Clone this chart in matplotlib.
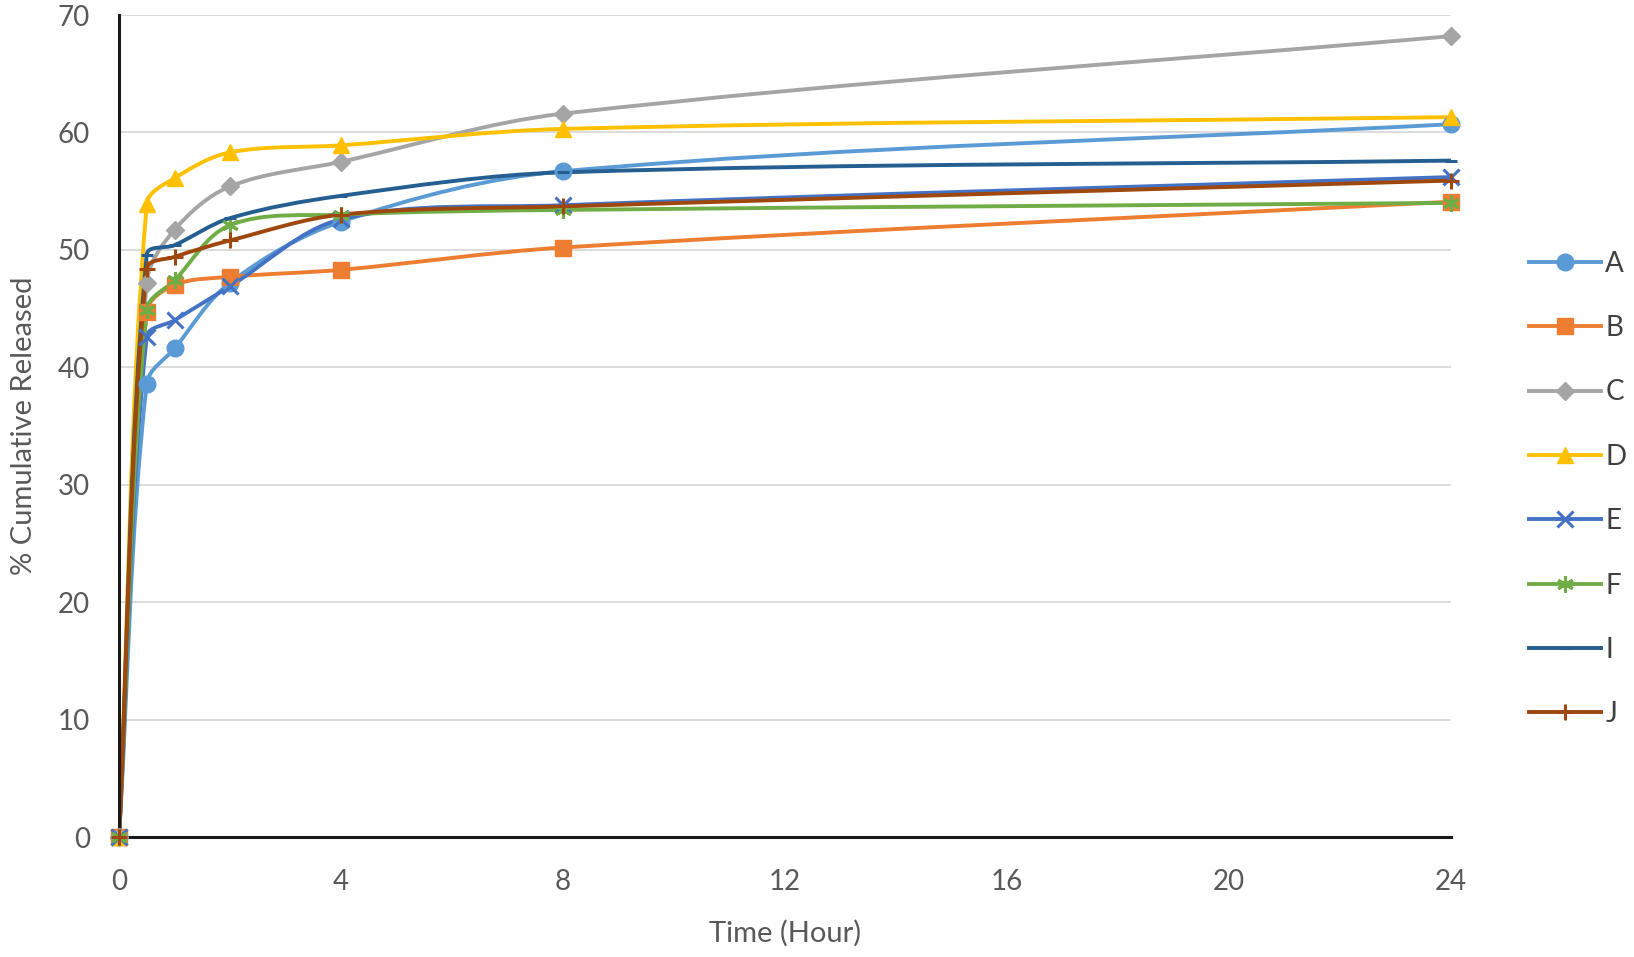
import numpy as np
import matplotlib
matplotlib.use("Agg")
import matplotlib.pyplot as plt
from matplotlib.path import Path
from matplotlib.patches import PathPatch
from matplotlib.lines import Line2D

plt.rcParams['font.family'] = ['Lato', 'DejaVu Sans']

time = [0, 0.5, 1, 2, 4, 8, 24]
series_names = ["A", "B", "C", "D", "E", "F", "I", "J"]
A = [0, 38.6, 41.6, 47.2, 52.4, 56.7, 60.7]
B = [0, 44.7, 47.0, 47.7, 48.3, 50.2, 54.1]
C = [0, 47.2, 51.7, 55.4, 57.5, 61.6, 68.2]
D = [0, 53.9, 56.1, 58.3, 58.9, 60.3, 61.3]
E = [0, 42.6, 44.0, 46.9, 52.6, 53.8, 56.2]
F = [0, 44.9, 47.4, 52.1, 53.0, 53.4, 54.0]
I = [0, 49.6, 50.4, 52.7, 54.6, 56.6, 57.6]
J = [0, 48.4, 49.4, 50.8, 53.0, 53.7, 55.9]
values = [A, B, C, D, E, F, I, J]

colors = ["#5B9BD5", "#ED7D31", "#A5A5A5", "#FFC000", "#4472C4", "#70AD47", "#255E91", "#9E480E"]
markers = ["o", "s", "D", "^", "x", (6, 2, 0), "_", "+"]
msizes = [12, 11, 9, 12, 11, 12, 8, 12]

W, H = 1634, 957
fig = plt.figure(figsize=(W / 100, H / 100), dpi=100)
ax_l, ax_r, ax_b, ax_t = 119 / W, 1451 / W, 1 - 837 / H, 1 - 15 / H
ax = fig.add_axes([ax_l, ax_b, ax_r - ax_l, ax_t - ax_b])
xmin, xmax, ymin, ymax = 0, 24, 0, 70
ax.set_xlim(xmin, xmax)
ax.set_ylim(ymin, ymax)

sx = (ax_r - ax_l) * W / (xmax - xmin)
sy = (ax_t - ax_b) * H / (ymax - ymin)


def smooth_path(xs, ys):
    P = np.column_stack([np.array(xs) * sx, np.array(ys) * sy])
    n = len(P)
    verts = [P[0]]
    codes = [Path.MOVETO]
    for i in range(n - 1):
        p0 = P[i]
        p1 = P[i + 1]
        prev = P[i - 1] if i > 0 else P[i]
        nxt = P[i + 2] if i + 2 < n else P[i + 1]
        L = np.linalg.norm(p1 - p0)
        t0 = p1 - prev
        t0 = t0 / (np.linalg.norm(t0) + 1e-12)
        t1 = nxt - p0
        t1 = t1 / (np.linalg.norm(t1) + 1e-12)
        c1 = p0 + t0 * L / 3
        c2 = p1 - t1 * L / 3
        verts += [c1, c2, p1]
        codes += [Path.CURVE4] * 3
    V = np.array(verts)
    V[:, 0] /= sx
    V[:, 1] /= sy
    return Path(V, codes)


for ys in range(10, 71, 10):
    ax.axhline(ys, color="#D9D9D9", lw=1.3, zorder=0)

handles = []
for name, vals, c, m, ms in zip(series_names, values, colors, markers, msizes):
    patch = PathPatch(smooth_path(time, vals), facecolor="none", edgecolor=c,
                      lw=2.8, zorder=2, capstyle="round", joinstyle="round")
    ax.add_patch(patch)
    mew = 2.2 if m in ("x", "+", "_") or isinstance(m, tuple) else 1.0
    ax.plot(time, vals, linestyle="none", marker=m, color=c, markersize=ms,
            markeredgewidth=mew, zorder=3, clip_on=False)
    handles.append(Line2D([], [], color=c, lw=2.8, marker=m, markersize=ms,
                          markeredgewidth=mew))

for s in ["top", "right"]:
    ax.spines[s].set_visible(False)
ax.spines["left"].set_color("#1a1a1a")
ax.spines["left"].set_linewidth(2.2)
ax.spines["bottom"].set_color("#1a1a1a")
ax.spines["bottom"].set_linewidth(2.2)

ax.set_xticks([0, 4, 8, 12, 16, 20, 24])
ax.set_yticks(range(0, 71, 10))
ax.tick_params(axis="both", length=0, labelsize=20, labelcolor="#595959")
ax.tick_params(axis="x", pad=23)
ax.tick_params(axis="y", pad=21)

ax.set_xlabel("Time (Hour)", fontsize=21, color="#595959", labelpad=18)
ax.set_ylabel("% Cumulative Released", fontsize=21, color="#595959", labelpad=15)

leg = fig.legend(handles, series_names, loc="center left", bbox_to_anchor=(1529 / W, 1 - 489 / H),
                 frameon=False, fontsize=20, handlelength=2.6, handletextpad=0.15,
                 labelspacing=1.38, borderpad=0, borderaxespad=0)
for t in leg.get_texts():
    t.set_color("#404040")

fig.savefig("out.png", dpi=100)
